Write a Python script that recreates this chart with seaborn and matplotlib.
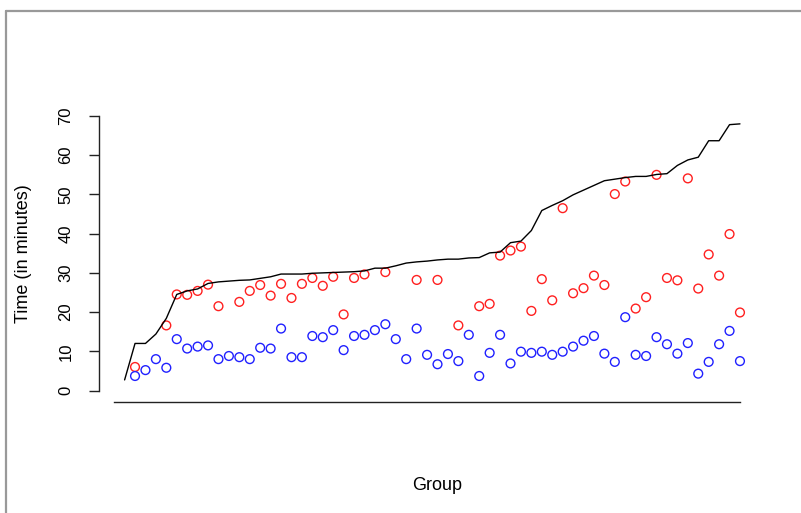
import numpy as np
import pandas as pd
import matplotlib
matplotlib.use("Agg")
import matplotlib.pyplot as plt
import seaborn as sns
from matplotlib.lines import Line2D

# ---- data ----
line_values = [2.7, 12.0, 12.0, 14.4, 18.4, 24.5, 25.4, 25.9, 27.3, 27.7,
               27.9, 28.1, 28.2, 28.6, 29.0, 29.7, 29.7, 29.7, 29.9, 30.0,
               30.1, 30.2, 30.3, 30.5, 31.2, 31.2, 31.8, 32.5, 32.8, 33.0,
               33.3, 33.5, 33.5, 33.8, 33.9, 35.1, 35.3, 37.7, 38.1, 40.8,
               45.9, 47.2, 48.4, 49.9, 51.1, 52.3, 53.5, 53.9, 54.3, 54.6,
               54.6, 55.1, 55.3, 57.4, 58.8, 59.5, 63.7, 63.7, 67.8, 68.0]

nan = np.nan
red_values = [6.0, nan, nan, 16.6, 24.5, 24.4, 25.4, 27.0, 21.5, nan,
              22.6, 25.4, 26.9, 24.2, 27.2, 23.6, 27.2, 28.7, 26.7, 29.0,
              19.4, 28.7, 29.6, nan, 30.2, nan, nan, 28.2, nan, 28.2,
              nan, 16.6, nan, 21.5, 22.1, 34.4, 35.7, 36.7, 20.3, 28.4,
              23.0, 46.5, 24.8, 26.1, 29.3, 26.9, 50.1, 53.3, 20.9, 23.8,
              55.0, 28.7, 28.1, 54.1, 26.0, 34.7, 29.3, 39.9, 19.9]

blue_values = [3.7, 5.2, 8.0, 5.8, 13.1, 10.7, 11.2, 11.5, 8.0, 8.8,
               8.5, 8.0, 10.9, 10.7, 15.8, 8.5, 8.5, 13.9, 13.6, 15.4,
               10.3, 13.9, 14.2, 15.4, 16.9, 13.1, 8.0, 15.8, 9.1, 6.7,
               9.3, 7.5, 14.2, 3.7, 9.6, 14.2, 6.9, 9.9, 9.6, 9.9,
               9.1, 9.9, 11.2, 12.7, 13.9, 9.4, 7.3, 18.7, 9.1, 8.8,
               13.6, 11.8, 9.4, 12.1, 4.3, 7.3, 11.8, 15.2, 7.5]

y_ticks = [0, 10, 20, 30, 40, 50, 60, 70]
y_label = "Time (in minutes)"
x_label = "Group"

line_df = pd.DataFrame({"group": np.arange(len(line_values)), "time": line_values})
pts_df = pd.DataFrame({"group": np.arange(1, len(red_values) + 1),
                       "red": red_values, "blue": blue_values})

# ---- figure ----
W, H = 801, 513
sns.set_style("white")
plt.rcParams["font.family"] = ["Liberation Sans", "DejaVu Sans"]
plt.rcParams["text.color"] = "black"
plt.rcParams["ytick.color"] = "black"
fig = plt.figure(figsize=(W / 100, H / 100), dpi=100)

left_px, right_px, top_px, bottom_px = 98.5, 765, 105, 402
ax = fig.add_axes([left_px / W, 1 - bottom_px / H,
                   (right_px - left_px) / W, (bottom_px - top_px) / H])

sns.lineplot(data=line_df, x="group", y="time", ax=ax, color="black",
             lw=1.0, estimator=None, sort=False)
sns.scatterplot(data=pts_df, x="group", y="red", ax=ax, marker="o",
                facecolor="none", edgecolor="#ff2020", linewidth=1.0, s=40)
sns.scatterplot(data=pts_df, x="group", y="blue", ax=ax, marker="o",
                facecolor="none", edgecolor="#2020ff", linewidth=1.0, s=40)

# pixel mapping: group g -> 124.6 + 10.43*g
def gx(px):
    return (px - 124.6) / 10.43

ax.set_xlim(gx(left_px), gx(right_px))
def vy(py):
    return (390.5 - py) / 3.921
ax.set_ylim(vy(bottom_px), vy(top_px))

for s in ["top", "right"]:
    ax.spines[s].set_visible(False)
ax.spines["left"].set_bounds(0, 70)
ax.spines["bottom"].set_bounds(gx(114), gx(740))
for s in ["left", "bottom"]:
    ax.spines[s].set_color("#222222")
    ax.spines[s].set_linewidth(1.0)

ax.set_xticks([])
ax.set_yticks(y_ticks)
ax.set_yticklabels([str(t) for t in y_ticks], rotation=90, va="center",
                   fontsize=12, color="black")
ax.tick_params(axis="y", left=True, length=7, width=1.0, color="#222222",
               pad=11, labelcolor="black")
ax.set_xlabel("")
ax.set_ylabel("")

fig.text(24 / W, 1 - 254 / H, y_label, rotation=90, ha="center",
         va="center", fontsize=13, color="black")
fig.text(437 / W, 1 - 485 / H, x_label, ha="center", va="center",
         fontsize=13, color="black")

# outer gray frame (top and left edges)
fig.add_artist(Line2D([5.5 / W, 1.0], [1 - 10.5 / H, 1 - 10.5 / H],
                      transform=fig.transFigure, color="#999999", lw=1.6))
fig.add_artist(Line2D([5.5 / W, 5.5 / W], [0.0, 1 - 10.5 / H],
                      transform=fig.transFigure, color="#999999", lw=1.6))

fig.savefig("out.png", dpi=100)
